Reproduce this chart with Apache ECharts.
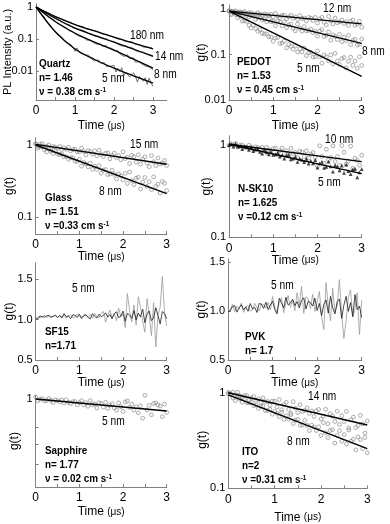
<!DOCTYPE html>
<html>
<head>
<meta charset="utf-8">
<script src="https://cdn.jsdelivr.net/npm/echarts@6/dist/echarts.min.js"></script>
<style>html,body{margin:0;padding:0;background:#fff}#main{width:390px;height:524px}</style>
</head>
<body>
<div id="main"></div>
<script>
// time axis shared by all traces (us)
var T = [0,0.05,0.1,0.15,0.2,0.25,0.3,0.35,0.4,0.45,0.5,0.55,0.6,0.65,0.7,0.75,0.8,0.85,0.9,0.95,1,1.05,1.1,1.15,1.2,1.25,1.3,1.35,1.4,1.45,1.5,1.55,1.6,1.65,1.7,1.75,1.8,1.85,1.9,1.95,2,2.05,2.1,2.15,2.2,2.25,2.3,2.35,2.4,2.45,2.5,2.55,2.6,2.65,2.7,2.75,2.8,2.85,2.9,2.95,3];
var FIT_T = [0, 3];
var QFIT_T = [0, 0.5, 1, 1.5, 2, 2.5, 3];
var X_LABELS = [0, 1, 2, 3];
var X_TICKS = [0, 0.5, 1, 1.5, 2, 2.5, 3];

// Quartz
var quartz180 = [1.0,0.952,0.86,0.819,0.74,0.719,0.679,0.606,0.572,0.549,0.486,0.478,0.448,0.416,0.408,0.368,0.359,0.332,0.326,0.291,0.284,0.276,0.25,0.242,0.244,0.224,0.204,0.208,0.197,0.183,0.184,0.164,0.17,0.154,0.143,0.143,0.14,0.124,0.126,0.125,0.112,0.112,0.0998,0.108,0.0953,0.0931,0.082,0.0874,0.0832,0.0748,0.0783,0.067,0.0693,0.0682,0.061,0.0557,0.0616,0.0556,0.0506,0.054,0.0481];
var quartz14 = [1.0,0.914,0.87,0.752,0.727,0.662,0.597,0.577,0.501,0.481,0.433,0.423,0.367,0.357,0.338,0.302,0.285,0.279,0.251,0.225,0.225,0.21,0.193,0.195,0.169,0.179,0.158,0.145,0.146,0.141,0.121,0.124,0.123,0.108,0.108,0.096,0.103,0.0906,0.0883,0.0778,0.0837,0.0782,0.0684,0.0735,0.0602,0.0628,0.0621,0.0534,0.0479,0.0552,0.0479,0.0428,0.0464,0.0401,0.0391,0.039,0.0342,0.0342,0.03,0.0314,0.0307];
var quartz8 = [1.0,0.925,0.784,0.716,0.686,0.589,0.502,0.487,0.434,0.377,0.359,0.306,0.31,0.268,0.24,0.234,0.218,0.183,0.18,0.171,0.145,0.146,0.123,0.138,0.115,0.112,0.0922,0.103,0.0942,0.08,0.0866,0.0687,0.0723,0.0715,0.06,0.0529,0.0625,0.0531,0.0466,0.0513,0.0426,0.0419,0.043,0.0346,0.0357,0.0285,0.0325,0.0321,0.0245,0.0244,0.0259,0.0188,0.0216,0.0195,0.0168,0.019,0.0142,0.0158,0.0135,0.0151,0.0107];
var quartz5 = [1.0,0.869,0.649,0.586,0.515,0.395,0.347,0.268,0.256,0.196,0.168,0.136,0.136,0.118,0.0979,0.096,0.075,0.0717,0.0656,0.0534,0.0412,0.0527,0.0421,0.0351,0.0404,0.0322,0.031,0.0311,0.0254,0.0254,0.0206,0.0228,0.0224,0.0177,0.0175,0.0183,0.0139,0.0154,0.014,0.0123,0.015,0.0093,0.0122,0.0097,0.0127,0.0071,0.0092,0.0096,0.0065,0.0068,0.0089,0.0067,0.0045,0.0068,0.0061,0.0048,0.0062,0.0038,0.006,0.0042,0.0033];
var quartz180Fit = [1, 0.50, 0.282, 0.178, 0.115, 0.074, 0.049];
var quartz14Fit = [1, 0.437, 0.219, 0.129, 0.0794, 0.0479, 0.0288];
var quartz8Fit = [1, 0.347, 0.151, 0.0794, 0.0447, 0.0234, 0.0123];
var quartz5Fit = [1, 0.166, 0.049, 0.0229, 0.0123, 0.00708, 0.00417];

// PEDOT
var pedot12 = [0.916,0.893,0.857,0.912,0.826,0.871,0.832,0.885,0.783,0.822,0.834,0.769,0.774,0.826,0.773,0.719,0.776,0.759,0.723,0.762,0.668,0.802,0.697,0.651,0.721,0.731,0.605,0.676,0.725,0.625,0.67,0.588,0.716,0.614,0.631,0.545,0.653,0.631,0.558,0.653,0.493,0.6,0.655,0.512,0.447,0.687,0.546,0.47,0.63,0.5,0.522,0.577,0.477,0.527,0.436,0.537,0.57,0.44,0.466,0.536,0.396];
var pedot8 = [0.9,0.8,0.887,0.847,0.78,0.836,0.713,0.818,0.714,0.662,0.71,0.705,0.589,0.637,0.664,0.574,0.598,0.525,0.612,0.526,0.535,0.428,0.548,0.516,0.428,0.53,0.386,0.447,0.472,0.378,0.331,0.466,0.377,0.327,0.41,0.332,0.338,0.361,0.303,0.323,0.252,0.33,0.352,0.246,0.262,0.313,0.207,0.27,0.249,0.213,0.278,0.191,0.24,0.202,0.264,0.165,0.204,0.217,0.161,0.168,0.22];
var pedot5 = [0.904,0.75,0.826,0.755,0.64,0.69,0.537,0.551,0.535,0.44,0.382,0.445,0.372,0.324,0.352,0.294,0.284,0.283,0.244,0.243,0.195,0.231,0.236,0.175,0.178,0.197,0.14,0.166,0.151,0.131,0.155,0.114,0.133,0.114,0.137,0.0942,0.109,0.112,0.0879,0.0895,0.12,0.0891,0.0646,0.0977,0.0891,0.0724,0.0982,0.0622,0.106,0.0721,0.0603,0.0817,0.0859,0.0508,0.0705,0.0871,0.0578,0.0714,0.0497,0.0887,0.0575];
var pedot12Fit = [0.9, 0.47];
var pedot8Fit = [0.9, 0.176];
var pedot5Fit = [0.9, 0.033];

// Glass
var glass15 = [1.033,0.964,1.026,1.04,0.946,0.959,0.998,0.897,0.955,0.933,0.893,0.953,0.863,0.912,0.871,0.927,0.822,0.863,0.875,0.807,0.804,0.904,0.813,0.724,0.836,0.807,0.75,0.83,0.705,0.847,0.736,0.689,0.764,0.774,0.641,0.716,0.769,0.664,0.711,0.624,0.804,0.646,0.678,0.551,0.719,0.687,0.579,0.73,0.542,0.637,0.684,0.557,0.497,0.711,0.585,0.516,0.658,0.542,0.561,0.61,0.519];
var glass8 = [1.037,0.902,0.942,0.948,0.855,0.8,0.904,0.818,0.762,0.822,0.745,0.738,0.746,0.684,0.692,0.634,0.665,0.662,0.594,0.592,0.632,0.507,0.573,0.542,0.495,0.558,0.457,0.506,0.458,0.516,0.404,0.445,0.455,0.387,0.393,0.445,0.389,0.337,0.393,0.373,0.327,0.403,0.291,0.421,0.319,0.28,0.344,0.355,0.244,0.305,0.352,0.265,0.308,0.239,0.359,0.265,0.284,0.214,0.311,0.293,0.231];
var glass15Fit = [1.02, 0.54];
var glass8Fit = [1.0, 0.21];

// N-SK10
var nsk10 = [0.989,1.03,0.995,1.042,0.953,0.991,1.0,0.944,0.948,0.995,0.948,0.9,0.955,0.938,0.906,0.944,0.877,0.946,0.889,0.861,0.914,0.927,0.789,0.869,0.925,0.817,0.869,0.778,0.923,0.809,0.832,0.735,0.861,0.838,0.753,0.865,0.723,0.796,0.83,0.733,0.59,0.98,0.752,0.635,0.9,0.69,0.731,0.98,0.664,0.75,0.604,0.99,0.836,0.621,0.668,0.97,0.56,0.72,0.681,0.604,0.776];
var nsk5 = [1.0,1.021,0.959,1.035,0.962,0.966,0.901,0.966,0.946,0.889,0.946,0.857,0.891,0.904,0.841,0.805,0.889,0.832,0.793,0.845,0.783,0.792,0.82,0.75,0.776,0.713,0.773,0.785,0.699,0.711,0.748,0.656,0.71,0.69,0.655,0.71,0.628,0.673,0.634,0.688,0.57,0.634,0.656,0.565,0.579,0.662,0.586,0.514,0.605,0.582,0.533,0.6,0.498,0.614,0.522,0.484,0.545,0.553,0.447,0.506,0.548];
var nsk10Fit = [1.02, 0.66];
var nsk5Fit = [1.02, 0.49];

// SF15 and PVK (linear)
var sf15Gray = [1.01,1.037,1.02,1.032,1.054,1.022,1.046,1.042,1.031,1.055,1.018,1.053,1.033,1.073,1.013,1.045,1.058,1.02,1.03,1.07,1.04,1.008,1.055,1.048,1.028,1.063,1.015,1.075,1.035,1.018,1.08,1.098,0.966,1.056,1.116,1.014,1.074,0.984,1.14,1.032,1.07,0.9,1.32,1.11,0.97,1.18,0.93,1.28,1.15,0.98,0.842,1.258,1.05,0.8,1.206,0.66,1.05,1.154,1.53,1.089,0.92];
var sf15Black = [1.009,1.01,1.044,1.033,1.031,1.045,1.048,1.026,1.041,1.051,1.028,1.048,1.018,1.07,1.034,1.044,1.01,1.058,1.052,1.024,1.066,1.016,1.046,1.06,1.026,1.008,1.072,1.04,1.02,1.064,1.034,1.05,1.082,1.03,1.062,1.01,1.074,1.094,1.022,1.042,1.104,0.978,1.074,1.056,1.014,1.11,0.996,1.08,1.032,1.128,0.962,1.066,1.106,0.986,1.018,1.146,1.05,0.946,1.098,1.074,1.01];
var pvkGray = [1.0,1.006,1.07,0.994,1.05,1.018,1.082,0.986,1.038,1.058,0.998,1.014,1.078,1.03,0.998,1.074,1.062,1.03,1.086,1.01,1.148,1.036,0.987,1.085,1.136,0.982,1.087,1.157,1.038,1.108,1.003,1.185,1.059,1.25,0.975,1.143,1.122,1.024,1.171,0.996,1.095,1.2,0.945,0.81,1.29,1.05,0.9,1.23,0.99,1.05,1.32,0.975,0.72,0.9,1.14,1.215,0.945,1.02,1.185,0.76,1.11];
var pvkBlack = [0.994,1.003,1.045,1.054,0.988,1.033,1.063,1.012,1.042,0.997,1.075,1.021,1.036,0.985,1.077,1.068,1.026,1.089,1.014,1.059,1.1,1.015,0.97,1.13,1.08,1.03,1.14,1.06,1.08,1.12,1.055,1.095,1.03,1.11,1.135,1.02,1.1,1.085,1.05,1.13,1.005,1.077,0.951,1.068,1.113,0.978,1.149,1.032,0.969,1.095,1.122,0.924,1.059,1.149,0.996,1.086,0.942,1.167,1.014,1.05,0.933];

// Sapphire
var sapphire = [1.015,0.986,0.999,1.003,0.985,0.988,1.004,0.989,0.973,0.993,0.988,0.977,0.992,0.969,0.994,0.974,0.965,0.979,0.981,0.955,0.971,0.987,0.955,0.972,0.944,0.988,0.954,0.962,0.931,0.971,0.965,0.938,0.974,0.929,0.953,0.964,0.933,0.916,0.97,0.941,0.907,0.977,0.985,0.935,0.959,0.916,0.94,0.897,0.947,0.86,1.03,0.917,0.951,0.883,0.965,0.97,0.955,0.946,0.87,0.96,0.9];
var sapphireFit = [1.0, 0.91];

// ITO
var ito14 = [1.01,0.965,1.016,0.919,1.013,0.929,0.888,0.935,0.935,0.834,0.883,0.912,0.833,0.861,0.793,0.882,0.802,0.81,0.739,0.815,0.816,0.708,0.848,0.665,0.754,0.793,0.67,0.609,0.807,0.687,0.619,0.748,0.637,0.653,0.693,0.607,0.645,0.565,0.646,0.668,0.532,0.57,0.671,0.473,0.604,0.568,0.5,0.64,0.465,0.575,0.499,0.638,0.427,0.52,0.557,0.432,0.454,0.58,0.472,0.378,0.507];
var ito8 = [0.963,0.973,0.881,0.827,0.938,0.853,0.797,0.863,0.785,0.782,0.794,0.732,0.743,0.685,0.722,0.723,0.651,0.652,0.671,0.596,0.637,0.608,0.563,0.627,0.526,0.576,0.529,0.589,0.475,0.516,0.526,0.456,0.461,0.513,0.456,0.402,0.458,0.438,0.402,0.44,0.357,0.486,0.382,0.339,0.403,0.411,0.297,0.357,0.401,0.311,0.365,0.291,0.407,0.311,0.326,0.252,0.344,0.323,0.26,0.34,0.236];
var ito14Fit = [1.0, 0.46];
var ito8Fit = [0.95, 0.26];

// panel layout (log panels use log10 values on a value axis)
var panels = [
  {left:36, top:3.8, width:130.7, height:96.2, xMax:3.35, yMin:-2.906, yMax:0.1, log:true, labels:[1,0.1,0.01], ticks:[1,0.1,0.01], yName:'PL Intensity (a.u.)', yGap:23, xGap:20},
  {left:229, top:4.9, width:132.7, height:95.1, xMax:3, yMin:-2, yMax:0.09, log:true, labels:[1,0.1,0.01], ticks:[1,0.1,0.01], yName:'g(t)', yGap:21, xGap:20},
  {left:35.7, top:137.8, width:131, height:96.2, xMax:3, yMin:-1.24, yMax:0.1, log:true, labels:[1,0.1], ticks:[1,0.1], yName:'g(t)', yGap:20, xGap:17},
  {left:229, top:135.8, width:132.7, height:101.5, xMax:3, yMin:-1, yMax:0.1, log:true, labels:[1,0.1], ticks:[1,0.1], yName:'g(t)', yGap:16, xGap:17},
  {left:35.7, top:262.8, width:131, height:97.2, xMax:3, yMin:0.5, yMax:1.7, log:false, labels:[0.5,1,1.5], ticks:[0.5,1,1.5], yName:'g(t)', yGap:20, xGap:17},
  {left:228, top:259, width:133.7, height:101, xMax:3, yMin:0.5, yMax:1.53, log:false, labels:[0.5,1,1.5], ticks:[0.5,1,1.5], yName:'g(t)', yGap:20, xGap:17},
  {left:35.7, top:395.2, width:131, height:91.8, xMax:3, yMin:Math.log10(0.5), yMax:0.013, log:true, labels:[1], ticks:[1,0.8,0.7,0.6], yName:'g(t)', yGap:15, xGap:19},
  {left:228.3, top:391.3, width:139, height:97, xMax:3, yMin:-1, yMax:0.015, log:true, labels:[1,0.1], ticks:[1,0.1], yName:'g(t)', yGap:20, xGap:23}
];

var AXIS_COLOR = '#808080';
var FONT = '"Liberation Sans", Arial, sans-serif';

var grids = [], xAxes = [], yAxes = [];
panels.forEach(function (p, i) {
  grids.push({left: p.left, top: p.top, width: p.width, height: p.height, outerBoundsMode: 'none', containLabel: false});
  xAxes.push({
    type: 'value', gridIndex: i, min: 0, max: p.xMax,
    name: '{a|Time }{b|(μs)}', nameLocation: 'middle', nameGap: p.xGap, nameMoveOverlap: false,
    nameTextStyle: {rich: {a: {fontSize: 12, color: '#000', fontFamily: FONT}, b: {fontSize: 10, color: '#000', fontFamily: FONT}}},
    axisLine: {onZero: false, lineStyle: {color: AXIS_COLOR, width: 1}},
    axisTick: {inside: true, length: 3, customValues: X_TICKS, lineStyle: {color: AXIS_COLOR}},
    axisLabel: {customValues: X_LABELS, margin: 5, fontSize: 12, color: '#000', formatter: function (v) { return String(v); }},
    splitLine: {show: false}
  });
  yAxes.push({
    type: 'value', gridIndex: i, min: p.yMin, max: p.yMax,
    name: p.yName, nameLocation: 'middle', nameGap: p.yGap, nameMoveOverlap: false,
    nameTextStyle: {fontSize: i === 0 ? 11 : 12, color: '#000'},
    axisLine: {show: true, onZero: false, lineStyle: {color: AXIS_COLOR, width: 1}},
    axisTick: {show: true, inside: true, length: 3, lineStyle: {color: AXIS_COLOR},
      customValues: p.log ? p.ticks.map(Math.log10) : p.ticks},
    axisLabel: {customValues: p.log ? p.labels.map(Math.log10) : p.labels, margin: 3, fontSize: 11, color: '#000',
      formatter: p.log ? function (v) { return String(parseFloat(Math.pow(10, v).toPrecision(2))); }
                       : function (v) { return v.toFixed(1); }},
    splitLine: {show: false}
  });
});

function pts(xs, ys, log) {
  return xs.map(function (x, i) { return [x, log ? Math.log10(ys[i]) : ys[i]]; });
}

var series = [];
function addLine(gi, xs, ys, log, color, width, smooth) {
  series.push({type: 'line', xAxisIndex: gi, yAxisIndex: gi, data: pts(xs, ys, log),
    showSymbol: false, symbol: 'none', smooth: smooth || false, z: smooth !== undefined ? 4 : 2,
    lineStyle: {color: color, width: width}});
}
function addFit(gi, xs, ys) {
  series.push({type: 'line', xAxisIndex: gi, yAxisIndex: gi, data: pts(xs, ys, true),
    showSymbol: false, symbol: 'none', z: 5, lineStyle: {color: '#000', width: 1.4}});
}
function addScatter(gi, ys, symbol, fill, border) {
  series.push({type: 'scatter', xAxisIndex: gi, yAxisIndex: gi, data: pts(T, ys, true),
    symbol: symbol, symbolSize: 3.8, z: 2,
    itemStyle: {color: fill, borderColor: border, borderWidth: border ? 0.9 : 0}});
}

// Quartz
addLine(0, T, quartz180, true, '#555', 0.8);
addLine(0, T, quartz14, true, '#555', 0.8);
addLine(0, T, quartz8, true, '#555', 0.8);
addLine(0, T, quartz5, true, '#555', 0.8);
addLine(0, QFIT_T, quartz180Fit, true, '#000', 1.3, 0.35);
addLine(0, QFIT_T, quartz14Fit, true, '#000', 1.3, 0.35);
addLine(0, QFIT_T, quartz8Fit, true, '#000', 1.3, 0.35);
addLine(0, QFIT_T, quartz5Fit, true, '#000', 1.3, 0.35);
// PEDOT
addScatter(1, pedot12, 'circle', 'rgba(0,0,0,0)', '#8c8c8c');
addScatter(1, pedot8, 'circle', 'rgba(0,0,0,0)', '#8c8c8c');
addScatter(1, pedot5, 'circle', 'rgba(0,0,0,0)', '#8c8c8c');
addFit(1, FIT_T, pedot12Fit);
addFit(1, FIT_T, pedot8Fit);
addFit(1, FIT_T, pedot5Fit);
// Glass
addScatter(2, glass15, 'circle', 'rgba(0,0,0,0)', '#8c8c8c');
addScatter(2, glass8, 'circle', 'rgba(0,0,0,0)', '#8c8c8c');
addFit(2, FIT_T, glass15Fit);
addFit(2, FIT_T, glass8Fit);
// N-SK10
addScatter(3, nsk10, 'circle', 'rgba(0,0,0,0)', '#8c8c8c');
addScatter(3, nsk5, 'triangle', '#111', null);
addFit(3, FIT_T, nsk10Fit);
addFit(3, FIT_T, nsk5Fit);
// SF15, PVK
addLine(4, T, sf15Gray, false, '#9a9a9a', 0.8);
addLine(4, T, sf15Black, false, '#1a1a1a', 0.8);
addLine(5, T, pvkGray, false, '#9a9a9a', 0.8);
addLine(5, T, pvkBlack, false, '#1a1a1a', 0.8);
// Sapphire
addScatter(6, sapphire, 'circle', 'rgba(0,0,0,0)', '#8c8c8c');
addFit(6, FIT_T, sapphireFit);
// ITO
addScatter(7, ito14, 'circle', 'rgba(0,0,0,0)', '#8c8c8c');
addScatter(7, ito8, 'circle', 'rgba(0,0,0,0)', '#8c8c8c');
addFit(7, FIT_T, ito14Fit);
addFit(7, FIT_T, ito8Fit);

// thickness labels
var notes = [
  [130, 36, '180 nm'], [155, 57, '14 nm'], [154, 75, '8 nm'], [102, 79, '5 nm'],
  [323, 9, '12 nm'], [362, 52, '8 nm'], [297, 69, '5 nm'],
  [130, 145, '15 nm'], [99, 192, '8 nm'],
  [325, 140, '10 nm'], [318, 183, '5 nm'],
  [72, 289, '5 nm'], [271, 286, '5 nm'], [102, 422, '5 nm'],
  [308, 397, '14 nm'], [287, 442, '8 nm']
];
// sample blocks
var samples = [
  {x: 39, y: 64, name: 'Quartz', n: 'n= 1.46', v: 'ν = 0.38 cm s'},
  {x: 237, y: 62, name: 'PEDOT', n: 'n= 1.53', v: 'ν = 0.45 cm s'},
  {x: 45, y: 198, name: 'Glass', n: 'n= 1.51', v: 'ν =0.33 cm s'},
  {x: 238, y: 189, name: 'N-SK10', n: 'n= 1.625', v: 'ν =0.12 cm s'},
  {x: 45, y: 332, name: 'SF15', n: 'n=1.71'},
  {x: 245, y: 337, name: 'PVK', n: 'n= 1.7'},
  {x: 45, y: 451, name: 'Sapphire', n: 'n= 1.77', v: 'ν = 0.02 cm s'},
  {x: 242, y: 452, name: 'ITO', n: 'n=2', v: 'ν =0.31 cm s'}
];

var graphics = [];
notes.forEach(function (d) {
  graphics.push({type: 'text', x: d[0], y: d[1], scaleX: 0.85, z: 10,
    style: {text: d[2], font: '12px ' + FONT, fill: '#000', verticalAlign: 'middle'}});
});
samples.forEach(function (s) {
  var bold = 'bold 11px ' + FONT;
  graphics.push({type: 'text', x: s.x, y: s.y, scaleX: 0.9, z: 10,
    style: {text: s.name, font: bold, fill: '#000', verticalAlign: 'middle'}});
  graphics.push({type: 'text', x: s.x, y: s.y + 14, scaleX: 0.9, z: 10,
    style: {text: s.n, font: bold, fill: '#000', verticalAlign: 'middle'}});
  if (s.v) {
    graphics.push({type: 'text', x: s.x, y: s.y + 28, scaleX: 0.9, z: 10,
      style: {text: '{a|' + s.v + '}{b|-1}', fill: '#000', verticalAlign: 'middle',
        rich: {a: {font: bold, fill: '#000'}, b: {font: 'bold 7px ' + FONT, fill: '#000', verticalAlign: 'top'}}}});
  }
});

var chart = echarts.init(document.getElementById('main'));
chart.setOption({
  animation: false,
  backgroundColor: '#fff',
  textStyle: {fontFamily: FONT},
  grid: grids,
  xAxis: xAxes,
  yAxis: yAxes,
  series: series,
  graphic: graphics
});
</script>
</body>
</html>
